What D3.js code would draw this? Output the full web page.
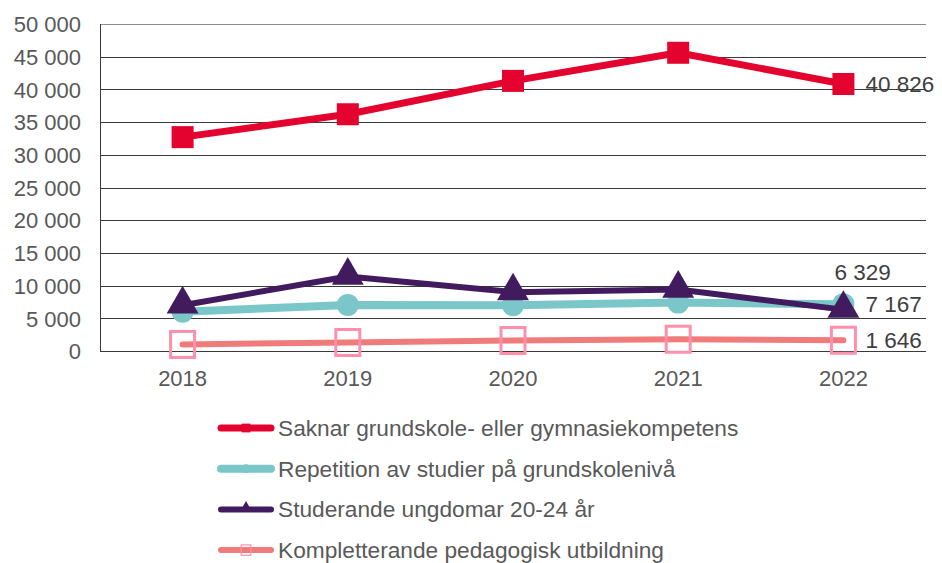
<!DOCTYPE html>
<html>
<head>
<meta charset="utf-8">
<script src="https://cdn.jsdelivr.net/npm/d3@7"></script>
<style>
  body { margin: 0; background: #fff; }
  text { font-family: "Liberation Sans", Arial, sans-serif; }
</style>
</head>
<body>
<div id="chart"></div>
<script>
const years = ['2018', '2019', '2020', '2021', '2022'];
const yTicks = [0, 5000, 10000, 15000, 20000, 25000, 30000, 35000, 40000, 45000, 50000];

const saknar = [32700, 36200, 41300, 45600, 40826];
const repetition = [6000, 7050, 7000, 7400, 7167];
const studerande = [7000, 11400, 9000, 9400, 6329];
const kompletterande = [1000, 1300, 1600, 1800, 1646];

const seriesNames = [
    'Saknar grundskole- eller gymnasiekompetens',
    'Repetition av studier på grundskolenivå',
    'Studerande ungdomar 20-24 år',
    'Kompletterande pedagogisk utbildning'
];

let series = [
    { name: seriesNames[0], values: saknar, color: '#E4032E', width: 7, marker: 'square' },
    { name: seriesNames[1], values: repetition, color: '#7AC6C8', width: 8, marker: 'circle' },
    { name: seriesNames[2], values: studerande, color: '#421B5F', width: 6, marker: 'triangle' },
    { name: seriesNames[3], values: kompletterande, color: '#EF7B7B', width: 6, marker: 'open' }
];

let svg = d3.select('#chart').append('svg')
    .attr('width', 942)
    .attr('height', 563);

let margin = { top: 24, left: 100, right: 926, bottom: 351 };

let x = d3.scaleBand().domain(years).range([margin.left, margin.right]);
let y = d3.scaleLinear().domain([0, 50000]).range([margin.bottom, margin.top]);

let fmt = v => d3.format(',')(v).replace(/,/g, ' ');

// gridlines
svg.append('g')
    .selectAll('line')
    .data(yTicks)
    .join('line')
    .attr('x1', margin.left)
    .attr('x2', margin.right)
    .attr('y1', d => Math.round(y(d)) + 0.5)
    .attr('y2', d => Math.round(y(d)) + 0.5)
    .attr('stroke', d => d === 50000 ? '#8c8c8c' : '#3a3a3a')
    .attr('stroke-width', 1);

svg.append('line')
    .attr('x1', margin.left + 0.5).attr('x2', margin.left + 0.5)
    .attr('y1', margin.top).attr('y2', margin.bottom)
    .attr('stroke', '#3a3a3a');

// y axis labels
let yAxis = svg.append('g')
    .attr('transform', 'translate(' + 81 + ',0)')
    .call(d3.axisLeft(y).tickValues(yTicks).tickFormat(fmt).tickSize(0).tickPadding(0));
yAxis.select('.domain').remove();
yAxis.selectAll('text')
    .attr('font-size', 22)
    .attr('fill', '#595959')
    .attr('dy', '0.35em');

// x axis labels
let xAxis = svg.append('g')
    .attr('transform', 'translate(0,' + 370 + ')')
    .call(d3.axisBottom(x).tickSize(0).tickPadding(0));
xAxis.select('.domain').remove();
xAxis.selectAll('text')
    .attr('font-size', 22)
    .attr('fill', '#595959');

let cx = d => x(d) + x.bandwidth() / 2;

let line = d3.line()
    .x((d, i) => cx(years[i]))
    .y(d => y(d));

function drawMarker(g, type, color, px, py, s) {
    if (type === 'square') {
        g.append('rect')
            .attr('x', px - 11 * s).attr('y', py - 11 * s)
            .attr('width', 22 * s).attr('height', 22 * s)
            .attr('fill', color);
    } else if (type === 'circle') {
        g.append('circle')
            .attr('cx', px).attr('cy', py).attr('r', 11 * s)
            .attr('fill', color);
    } else if (type === 'triangle') {
        g.append('path')
            .attr('d', d3.symbol().type(d3.symbolTriangle).size(440 * s * s))
            .attr('transform', 'translate(' + px + ',' + (py - 1) + ')')
            .attr('fill', color);
    } else {
        g.append('rect')
            .attr('x', px - 12 * s).attr('y', py - 13 * s)
            .attr('width', 24 * s).attr('height', 26 * s)
            .attr('fill', 'none')
            .attr('stroke', '#FF8FAA')
            .attr('stroke-width', 3 * s);
    }
}

series.forEach(function(s) {
    let g = svg.append('g');
    g.append('path')
        .datum(s.values)
        .attr('d', line)
        .attr('fill', 'none')
        .attr('stroke', s.color)
        .attr('stroke-width', s.width)
        .attr('stroke-linecap', 'round')
        .attr('stroke-linejoin', 'round');
    s.values.forEach(function(v, i) {
        drawMarker(g, s.marker, s.color, cx(years[i]), y(v), 1);
    });
});

// end labels
let last = years.length - 1;
let labels = [
    { v: saknar[last], dx: 22, dy: 0 },
    { v: repetition[last], dx: 22, dy: 0 },
    { v: studerande[last], dx: -9, dy: -37 },
    { v: kompletterande[last], dx: 22, dy: 0 }
];
labels.forEach(function(l) {
    svg.append('text')
        .attr('x', cx(years[last]) + l.dx)
        .attr('y', y(l.v) + l.dy)
        .attr('dy', '0.35em')
        .attr('font-size', 22.5)
        .attr('fill', '#404040')
        .text(fmt(l.v));
});

// legend
let legend = svg.append('g');
series.forEach(function(s, i) {
    let ly = 428 + i * 40.7;
    legend.append('line')
        .attr('x1', 221).attr('x2', 271)
        .attr('y1', ly).attr('y2', ly)
        .attr('stroke', s.color)
        .attr('stroke-width', s.width)
        .attr('stroke-linecap', 'round');
    drawMarker(legend, s.marker, s.color, 246, ly, 0.4);
    legend.append('text')
        .attr('x', 278)
        .attr('y', ly)
        .attr('dy', '0.35em')
        .attr('font-size', 22.7)
        .attr('fill', '#595959')
        .text(s.name);
});
</script>
</body>
</html>
